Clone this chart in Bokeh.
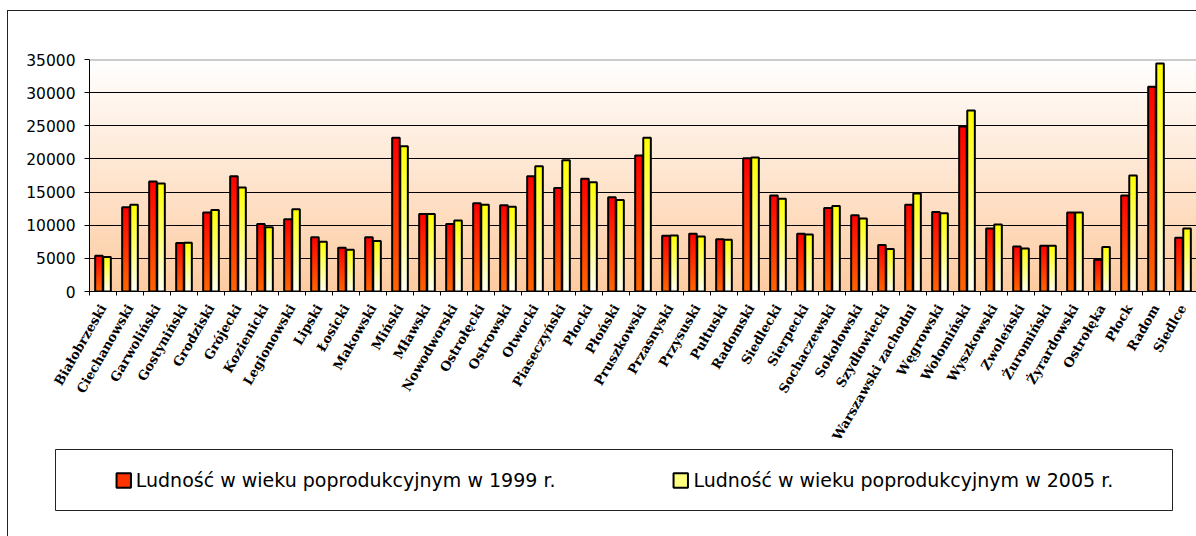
import numpy as np
from math import pi
from bokeh.plotting import figure
from bokeh.layouts import column, row
from bokeh.models import Range1d, FixedTicker, Legend, LegendItem, Span
from bokeh.embed import file_html
from bokeh.resources import INLINE

powiaty = ["Białobrzeski", "Ciechanowski", "Garwoliński", "Gostyniński", "Grodziski",
           "Grójecki", "Kozienicki", "Legionowski", "Lipski", "Łosicki", "Makowski",
           "Miński", "Mławski", "Nowodworski", "Ostrołęcki", "Ostrowski", "Otwocki",
           "Piaseczyński", "Płocki", "Płoński", "Pruszkowski", "Przasnyski", "Przysuski",
           "Pułtuski", "Radomski", "Siedlecki", "Sierpecki", "Sochaczewski", "Sokołowski",
           "Szydłowiecki", "Warszawski zachodni", "Węgrowski", "Wołomiński", "Wyszkowski",
           "Zwoleński", "Żuromiński", "Żyrardowski", "Ostrołęka", "Płock", "Radom", "Siedlce"]

ludnosc_1999 = [5400, 12700, 16600, 7300, 11900, 17400, 10200, 10900, 8200, 6600, 8200,
                23200, 11700, 10200, 13300, 13000, 17400, 15600, 17000, 14200, 20500, 8400,
                8700, 7900, 20100, 14500, 8700, 12600, 11500, 7000, 13100, 12000, 24900,
                9500, 6800, 6900, 11900, 4800, 14500, 30900, 8100]

ludnosc_2005 = [5200, 13100, 16300, 7350, 12300, 15700, 9700, 12400, 7500, 6300, 7600,
                21900, 11700, 10700, 13100, 12800, 18900, 19800, 16500, 13800, 23200, 8450,
                8300, 7800, 20200, 14000, 8600, 12900, 11000, 6400, 14800, 11800, 27300,
                10100, 6500, 6900, 11900, 6700, 17500, 34400, 9500]

y_ticks = [0, 5000, 10000, 15000, 20000, 25000, 30000, 35000]

series_labels = ["Ludność w wieku poprodukcyjnym w 1999 r.",
                 "Ludność w wieku poprodukcyjnym w 2005 r."]


def hex_to_rgb(h):
    h = h.lstrip("#")
    return tuple(int(h[i:i + 2], 16) for i in (0, 2, 4))


def lerp(c0, c1, t):
    a, b = hex_to_rgb(c0), hex_to_rgb(c1)
    return "#%02x%02x%02x" % tuple(int(round(a[i] + (b[i] - a[i]) * t)) for i in range(3))


n = len(powiaty)
ymax = y_ticks[-1]
centers = np.arange(n) + 0.5

p = figure(width=1188, height=438, x_range=Range1d(0, n), y_range=Range1d(0, ymax),
           output_backend="svg", toolbar_location=None,
           min_border_left=81, min_border_top=48, min_border_bottom=157, min_border_right=0)
p.outline_line_color = None
p.background_fill_color = "white"
p.border_fill_color = "white"

# background gradient (white at top -> peach at bottom)
M = 60
bg_top, bg_left, bg_right, bg_col = [], [], [], []
for j in range(M, 0, -1):
    bg_top.append(ymax * j / M)
    bg_left.append(0)
    bg_right.append(n)
    bg_col.append(lerp("#FDCBA0", "#FFFFFF", (j - 0.5) / M))
p.quad(left=bg_left, right=bg_right, bottom=[0] * M, top=bg_top, fill_color=bg_col,
       line_color=None, level="image")

# gradient bars
N = 30
w = 0.28
gap = 0.01


def gradient_bars(values, lefts, rights, c_bottom, c_top):
    L, R, T, C = [], [], [], []
    for k in range(N, 0, -1):
        col = lerp(c_bottom, c_top, (k - 0.5) / N)
        for v, l, r in zip(values, lefts, rights):
            L.append(l)
            R.append(r)
            T.append(v * k / N)
            C.append(col)
    p.quad(left=L, right=R, bottom=[0] * len(L), top=T, fill_color=C, line_color=None)
    p.quad(left=list(lefts), right=list(rights), bottom=[0] * len(values), top=values,
           fill_color=None, line_color="black", line_width=2)


gradient_bars(ludnosc_1999, centers - gap - w, centers - gap, "#FF6600", "#FF0000")
gradient_bars(ludnosc_2005, centers + gap, centers + gap + w, "#FFFFF4", "#FFFF00")

# grid
p.xgrid.visible = False
p.ygrid.ticker = FixedTicker(ticks=y_ticks[:-1])
p.ygrid.grid_line_color = "black"
p.ygrid.grid_line_width = 1
p.add_layout(Span(location=ymax, dimension="width", line_color="#999999", line_width=2))

# y axis
p.yaxis.ticker = FixedTicker(ticks=y_ticks)
p.yaxis.major_label_text_font = "DejaVu Sans"
p.yaxis.major_label_text_font_size = "15.5px"
p.yaxis.major_label_text_color = "black"
p.yaxis.major_tick_out = 5
p.yaxis.major_tick_in = 0
p.yaxis.minor_tick_out = 0
p.yaxis.minor_tick_in = 0
p.yaxis.major_label_standoff = 9
p.yaxis.axis_line_color = "black"
p.yaxis.major_tick_line_color = "black"

# x axis
p.xaxis.ticker = FixedTicker(ticks=[float(c) for c in centers],
                             minor_ticks=list(range(n + 1)))
p.xaxis.major_label_overrides = {float(c): name for c, name in zip(centers, powiaty)}
p.xaxis.major_label_orientation = pi / 3
p.xaxis.major_label_text_font = "DejaVu Serif"
p.xaxis.major_label_text_font_style = "bold"
p.xaxis.major_label_text_font_size = "13px"
p.xaxis.major_label_text_color = "black"
p.xaxis.major_label_standoff = 10
p.xaxis.major_tick_out = 0
p.xaxis.major_tick_in = 0
p.xaxis.minor_tick_out = 4
p.xaxis.minor_tick_in = 0
p.xaxis.minor_tick_line_color = "black"
p.xaxis.axis_line_color = "black"

# legend panel (separate figure whose frame is the legend box)
pl = figure(width=1188, height=87, x_range=Range1d(0, 1), y_range=Range1d(0, 1),
            output_backend="svg", toolbar_location=None,
            min_border_left=47, min_border_right=24, min_border_top=0, min_border_bottom=26)
pl.axis.visible = False
pl.grid.visible = False
pl.outline_line_color = "#222222"
pl.outline_line_width = 1
pl.border_fill_color = "white"
nan = float("nan")
r1 = pl.quad(left=[nan], right=[nan], top=[nan], bottom=[nan], fill_color="#FF3300",
             line_color="black", line_width=2)
r2 = pl.quad(left=[nan], right=[nan], top=[nan], bottom=[nan], fill_color="#FFFF80",
             line_color="black", line_width=2)
legend = Legend(items=[LegendItem(label=series_labels[0], renderers=[r1]),
                       LegendItem(label=series_labels[1], renderers=[r2])],
                orientation="horizontal", location="center", padding=0, margin=0,
                spacing=116, glyph_width=18, glyph_height=18, label_standoff=4,
                label_text_font="DejaVu Sans", label_text_font_size="19px",
                label_text_color="black",
                border_line_color=None, background_fill_alpha=0)
pl.add_layout(legend, "center")

layout = column(row(p, spacing=0), row(pl, spacing=0), spacing=0)
layout.styles = {"border-left": "1px solid #222222", "border-top": "1px solid #222222",
                 "margin-left": "7px", "margin-top": "10px"}

open("out.html", "w").write(file_html(layout, INLINE))
